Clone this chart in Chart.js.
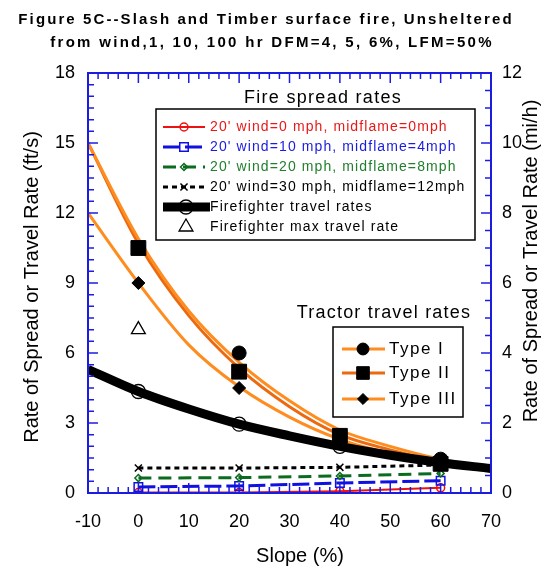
<!DOCTYPE html>
<html>
<head>
<meta charset="utf-8">
<script src="https://cdn.jsdelivr.net/npm/chart.js@4.4.0/dist/chart.umd.min.js"></script>
<style>
  html, body { margin: 0; padding: 0; background: #fff; }
</style>
</head>
<body>
<canvas id="grafico" width="552" height="569"></canvas>
<script>
// Slopes (%) where rates were measured
const slopes = [0, 20, 40, 60];
// Slopes used to trace the fitted curves
const curveSlopes = [-10, 0, 10, 20, 30, 40, 50, 60, 70];

// Fire spread rates (ft/s) for each 20' wind speed
const wind0 = [0.02, 0.02, 0.08, 0.22];
const wind10 = [0.26, 0.3, 0.43, 0.53];
const wind20 = [0.64, 0.66, 0.73, 0.84];
const wind30 = [1.07, 1.07, 1.1, 1.2];

// Firefighter travel rates (ft/s)
const ffCurve = [5.3, 4.35, 3.6, 2.95, 2.45, 2.0, 1.62, 1.3, 1.05];
const ffRates = [4.35, 2.95, 2.0, 1.3];
const ffMaxSlope = [0];
const ffMaxRate = [7.0];

// Tractor travel rates (ft/s)
const typeICurve = [15.0, 10.9, 7.8, 5.6, 3.95, 2.7, 2.0, 1.45, 1.1];
const typeIICurve = [15.0, 10.7, 7.6, 5.35, 3.7, 2.5, 1.85, 1.35, 1.0];
const typeIIICurve = [12.0, 9.0, 6.35, 4.55, 3.25, 2.3, 1.7, 1.25, 0.92];
const typeIRates = [10.5, 6.0, 2.45, 1.45];
const typeIIRates = [10.5, 5.2, 2.45, 1.25];
const typeIIIRates = [9.0, 4.5, 2.2, 1.3];

// Tick values of both vertical axes
const ftTicks = [0, 3, 6, 9, 12, 15, 18];
const mphTicks = [0, 2, 4, 6, 8, 10, 12];

const FONT = '"Liberation Sans", Arial, Helvetica, sans-serif';
const azulEixo = '#1c1ce0';
const laranja = '#ff8c1e';
const laranjaEscuro = '#eb6a10';

function pts(xs, ys) {
    return xs.map((x, i) => ({ x: x, y: ys[i] }));
}

// Wind series: line plus open marker
function serieVento(label, valores, cor, estilo, raio, largura, traco) {
    return {
        label: label,
        data: pts(slopes, valores),
        showLine: true,
        borderColor: cor,
        borderWidth: largura,
        borderDash: traco,
        pointStyle: estilo,
        pointRadius: raio,
        pointBorderColor: cor,
        pointBackgroundColor: 'rgba(0,0,0,0)',
        pointBorderWidth: 1.5,
        yAxisID: 'y'
    };
}

function curva(label, valores, cor, largura) {
    return {
        label: label,
        data: pts(curveSlopes, valores),
        showLine: true,
        borderColor: cor,
        borderWidth: largura,
        pointRadius: 0,
        cubicInterpolationMode: 'monotone',
        yAxisID: 'y'
    };
}

function marcas(label, xs, valores, estilo, raio, preenchido, largura) {
    return {
        label: label,
        data: pts(xs, valores),
        showLine: false,
        pointStyle: estilo,
        pointRadius: raio,
        pointBorderColor: '#000',
        pointBackgroundColor: preenchido ? '#000' : 'rgba(0,0,0,0)',
        pointBorderWidth: largura,
        yAxisID: 'y'
    };
}

const dsVento0 = serieVento("20' wind=0 mph, midflame=0mph", wind0, '#ee1111', 'circle', 4, 2, []);
const dsVento10 = serieVento("20' wind=10 mph, midflame=4mph", wind10, '#1010e0', 'rect', 6, 3, [17, 5]);
const dsVento20 = serieVento("20' wind=20 mph, midflame=8mph", wind20, '#0b6b1e', 'rectRot', 3.5, 3, [13, 7]);
const dsVento30 = serieVento("20' wind=30 mph, midflame=12mph", wind30, '#000000', 'crossRot', 5, 3, [5, 4]);

const dsFFLinha = curva('Firefighter travel rates', ffCurve, '#000', 9);
dsFFLinha.borderCapStyle = 'butt';
const dsFFMarcas = marcas('Firefighter travel rates', slopes, ffRates, 'circle', 7, false, 1.3);
const dsFFMax = marcas('Firefighter max travel rate', ffMaxSlope, ffMaxRate, 'triangle', 8, false, 1.3);

const dsTipoI = curva('Type I', typeICurve, laranja, 3);
const dsTipoII = curva('Type II', typeIICurve, laranjaEscuro, 3);
const dsTipoIII = curva('Type III', typeIIICurve, laranja, 3);
const dsTipoIM = marcas('Type I', slopes, typeIRates, 'circle', 7, true, 1);
const dsTipoIIM = marcas('Type II', slopes, typeIIRates, 'rect', 10.5, true, 1);
const dsTipoIIIM = marcas('Type III', slopes, typeIIIRates, 'rectRot', 6.5, true, 1);

// first in the list is drawn on top
const datasets = [
    dsTipoIM, dsTipoIIM, dsTipoIIIM,
    dsFFMax, dsFFMarcas, dsFFLinha,
    dsTipoI, dsTipoII, dsTipoIII,
    dsVento30, dsVento20, dsVento10, dsVento0
];

// Draws a legend sample: line segment and marker
function amostra(ctx, linha, ponto, x1, x2, y, xm) {
    if (linha) {
        ctx.save();
        ctx.strokeStyle = linha.borderColor;
        ctx.lineWidth = linha.borderWidth;
        ctx.setLineDash(linha.borderDash || []);
        ctx.beginPath();
        ctx.moveTo(x1, y);
        ctx.lineTo(x2, y);
        ctx.stroke();
        ctx.restore();
    }
    if (ponto && ponto.pointRadius) {
        ctx.save();
        ctx.setLineDash([]);
        ctx.strokeStyle = ponto.pointBorderColor;
        ctx.fillStyle = ponto.pointBackgroundColor;
        ctx.lineWidth = ponto.pointBorderWidth;
        Chart.helpers.drawPoint(ctx, {
            pointStyle: ponto.pointStyle,
            radius: ponto.pointRadius,
            rotation: 0,
            borderWidth: ponto.pointBorderWidth
        }, xm, y);
        ctx.restore();
    }
}

function texto(ctx, str, x, y, fonte, cor, alinhamento, espaco) {
    ctx.save();
    ctx.font = fonte;
    ctx.fillStyle = cor;
    ctx.textAlign = alinhamento;
    ctx.textBaseline = 'middle';
    ctx.letterSpacing = espaco + 'px';
    ctx.fillText(str, x, y);
    ctx.restore();
}

function textoVertical(ctx, str, x, y, fonte) {
    ctx.save();
    ctx.translate(x, y);
    ctx.rotate(-Math.PI / 2);
    texto(ctx, str, 0, 0, fonte, '#000', 'center', 0);
    ctx.restore();
}

// Frame with inward ticks, titles and the two legends
const decoracao = {
    id: 'decoracao',
    afterDraw(chart) {
        const ctx = chart.ctx;
        const a = chart.chartArea;
        const { x, y, y2 } = chart.scales;

        ctx.save();
        ctx.strokeStyle = azulEixo;
        ctx.lineWidth = 1.5;
        ctx.beginPath();
        for (let v = -10; v <= 70; v += 2) {
            const px = x.getPixelForValue(v);
            const len = v % 10 === 0 ? 10 : 6;
            ctx.moveTo(px, a.bottom); ctx.lineTo(px, a.bottom - len);
            ctx.moveTo(px, a.top); ctx.lineTo(px, a.top + len);
        }
        for (let i = 0; i <= 36; i++) {
            const py = y.getPixelForValue(i * 0.5);
            const len = i % 6 === 0 ? 10 : 6;
            ctx.moveTo(a.left, py); ctx.lineTo(a.left + len, py);
        }
        for (let i = 0; i <= 24; i++) {
            const py = y2.getPixelForValue(i * 0.5);
            const len = i % 4 === 0 ? 10 : 6;
            ctx.moveTo(a.right, py); ctx.lineTo(a.right - len, py);
        }
        ctx.stroke();
        ctx.lineWidth = 2;
        ctx.strokeRect(a.left, a.top, a.right - a.left, a.bottom - a.top);
        ctx.restore();

        // chart title
        const fonteTitulo = 'bold 15px ' + FONT;
        texto(ctx, 'Figure 5C--Slash and Timber surface fire, Unsheltered', 266, 20, fonteTitulo, '#000', 'center', 2.1);
        texto(ctx, 'from wind,1, 10, 100 hr DFM=4, 5, 6%, LFM=50%', 272, 43, fonteTitulo, '#000', 'center', 2.3);

        // axis titles
        const fonteEixo = '20px ' + FONT;
        texto(ctx, 'Slope (%)', 300, 556, fonteEixo, '#000', 'center', 0);
        textoVertical(ctx, 'Rate of Spread or Travel Rate (ft/s)', 32, 287, fonteEixo);
        textoVertical(ctx, 'Rate of Spread or Travel Rate (mi/h)', 531, 261, fonteEixo);

        // fire spread legend
        texto(ctx, 'Fire spread rates', 323, 98, '18px ' + FONT, '#000', 'center', 1.3);
        ctx.save();
        ctx.fillStyle = '#fff';
        ctx.fillRect(156, 109, 319, 131);
        ctx.strokeStyle = '#000';
        ctx.lineWidth = 1.5;
        ctx.strokeRect(156, 109, 319, 131);
        ctx.restore();
        const fonteLeg = '14px ' + FONT;
        const itensFogo = [
            [dsVento0, '#e81818'],
            [dsVento10, '#1a1ae0'],
            [dsVento20, '#1f7f2a'],
            [dsVento30, '#000']
        ];
        itensFogo.forEach(([ds, cor], i) => {
            const yy = 127 + i * 20;
            amostra(ctx, ds, ds, 163, 205, yy, 184);
            texto(ctx, ds.label, 210, yy, fonteLeg, cor, 'left', 1.1);
        });
        amostra(ctx, dsFFLinha, dsFFMarcas, 163, 210, 207, 186);
        texto(ctx, dsFFLinha.label, 210, 207, fonteLeg, '#000', 'left', 1.1);
        amostra(ctx, null, dsFFMax, 163, 210, 227, 186);
        texto(ctx, dsFFMax.label, 210, 227, fonteLeg, '#000', 'left', 1.1);

        // tractor legend
        texto(ctx, 'Tractor travel rates', 384, 313, '18px ' + FONT, '#000', 'center', 1.2);
        ctx.save();
        ctx.fillStyle = '#fff';
        ctx.fillRect(333, 327, 130, 90);
        ctx.strokeStyle = '#000';
        ctx.lineWidth = 1.5;
        ctx.strokeRect(333, 327, 130, 90);
        ctx.restore();
        const itensTrator = [
            [dsTipoI, dsTipoIM, 349],
            [dsTipoII, dsTipoIIM, 373],
            [dsTipoIII, dsTipoIIIM, 399]
        ];
        itensTrator.forEach(([linha, ponto, yy]) => {
            const p = Object.assign({}, ponto, { pointRadius: ponto.pointRadius * 0.85 });
            amostra(ctx, linha, p, 342, 385, yy, 363);
            texto(ctx, linha.label, 389, yy, '17px ' + FONT, '#000', 'left', 1.5);
        });
    }
};

const ctx = document.getElementById('grafico').getContext('2d');

const grafico = new Chart(ctx, {
    type: 'scatter',
    data: { datasets: datasets },
    options: {
        responsive: false,
        animation: false,
        layout: { padding: { top: 73, left: 0, right: 0, bottom: 0 } },
        plugins: {
            legend: { display: false },
            title: { display: false },
            tooltip: { enabled: false }
        },
        scales: {
            x: {
                type: 'linear',
                min: -10,
                max: 70,
                grid: { display: false, drawTicks: false },
                border: { display: false },
                ticks: {
                    stepSize: 10,
                    padding: 18,
                    color: '#000',
                    font: { family: FONT, size: 18 }
                },
                afterFit: (scale) => { scale.height = 76; }
            },
            y: {
                position: 'left',
                min: 0,
                max: 18,
                grid: { display: false, drawTicks: false },
                border: { display: false },
                afterBuildTicks: (scale) => { scale.ticks = ftTicks.map(v => ({ value: v })); },
                ticks: {
                    padding: 13,
                    color: '#000',
                    font: { family: FONT, size: 18 }
                },
                afterFit: (scale) => { scale.width = 88; }
            },
            y2: {
                position: 'right',
                min: 0,
                max: 12,
                grid: { display: false, drawTicks: false },
                border: { display: false },
                afterBuildTicks: (scale) => { scale.ticks = mphTicks.map(v => ({ value: v })); },
                ticks: {
                    padding: 11,
                    color: '#000',
                    font: { family: FONT, size: 18 }
                },
                afterFit: (scale) => { scale.width = 61; }
            }
        }
    },
    plugins: [decoracao]
});
</script>
</body>
</html>
